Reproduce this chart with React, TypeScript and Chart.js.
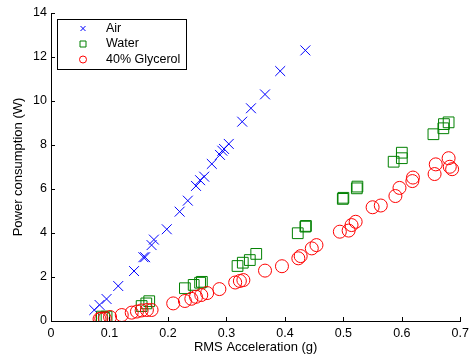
import { useEffect, useRef } from 'react';
import { Chart, registerables } from 'chart.js';

Chart.register(...registerables);

// RMS acceleration (g) and power consumption (W) per series
const airAccel = [0.074, 0.083, 0.095, 0.115, 0.142, 0.158, 0.161, 0.172, 0.176, 0.198, 0.220, 0.234, 0.248, 0.255, 0.262, 0.275, 0.289, 0.293, 0.296, 0.304, 0.327, 0.342, 0.366, 0.392, 0.435];
const airPower = [0.5, 0.73, 1.0, 1.59, 2.27, 2.9, 2.9, 3.45, 3.7, 4.17, 4.97, 5.47, 6.14, 6.4, 6.56, 7.14, 7.55, 7.74, 7.82, 8.05, 9.06, 9.67, 10.3, 11.36, 12.3];

const waterAccel = [0.087, 0.095, 0.091, 0.155, 0.163, 0.168, 0.229, 0.244, 0.255, 0.258, 0.319, 0.328, 0.340, 0.351, 0.422, 0.435, 0.436, 0.499, 0.500, 0.523, 0.524, 0.586, 0.600, 0.600, 0.654, 0.671, 0.672, 0.680];
const waterPower = [0.2, 0.2, 0.14, 0.68, 0.8, 0.9, 1.49, 1.64, 1.74, 1.78, 2.5, 2.65, 2.77, 3.05, 3.99, 4.29, 4.32, 5.55, 5.6, 6.03, 6.11, 7.24, 7.4, 7.65, 8.49, 8.76, 8.95, 9.03];

const glyAccel = [0.083, 0.086, 0.092, 0.101, 0.121, 0.138, 0.147, 0.155, 0.164, 0.172, 0.209, 0.229, 0.240, 0.248, 0.257, 0.267, 0.288, 0.315, 0.323, 0.329, 0.366, 0.395, 0.423, 0.427, 0.446, 0.454, 0.494, 0.509, 0.514, 0.521, 0.550, 0.564, 0.589, 0.596, 0.618, 0.619, 0.656, 0.658, 0.680, 0.682, 0.686];
const glyPower = [0.09, 0.11, 0.12, 0.18, 0.27, 0.38, 0.43, 0.48, 0.5, 0.5, 0.8, 0.91, 1.01, 1.1, 1.18, 1.27, 1.45, 1.75, 1.82, 1.86, 2.29, 2.49, 2.85, 2.95, 3.3, 3.45, 4.06, 4.11, 4.36, 4.51, 5.17, 5.25, 5.68, 6.05, 6.36, 6.52, 6.68, 7.12, 7.4, 7.01, 6.9];

const seriesNames = ['Air', 'Water', '40% Glycerol'];
const xTickLabels = ['0', '0.1', '0.2', '0.3', '0.4', '0.5', '0.6', '0.7'];
const yTickLabels = ['0', '2', '4', '6', '8', '10', '12', '14'];

const BLUE = 'rgb(0,0,255)';
const GREEN = 'rgb(0,128,0)';
const RED = 'rgb(255,0,0)';
const FONT = '"Liberation Sans", Arial, Helvetica, sans-serif';

const zip = (xs: number[], ys: number[]) => xs.map((x, i) => ({ x, y: ys[i] }));

const inwardTicks = {
  id: 'inwardTicks',
  afterDraw(chart: any) {
    const { ctx, chartArea, scales } = chart;
    ctx.save();
    ctx.strokeStyle = '#000';
    ctx.lineWidth = 1;
    ctx.beginPath();
    scales.x.ticks.forEach((t: any) => {
      const px = Math.round(scales.x.getPixelForValue(t.value)) + 0.5;
      ctx.moveTo(px, chartArea.bottom);
      ctx.lineTo(px, chartArea.bottom - 4);
    });
    scales.y.ticks.forEach((t: any) => {
      const py = Math.round(scales.y.getPixelForValue(t.value)) + 0.5;
      ctx.moveTo(chartArea.left, py);
      ctx.lineTo(chartArea.left + 4, py);
    });
    ctx.stroke();
    ctx.restore();
  },
};

const boxLegend = {
  id: 'boxLegend',
  afterDraw(chart: any) {
    const { ctx, chartArea } = chart;
    const x0 = Math.round(chartArea.left) + 6;
    const y0 = Math.round(chartArea.top) + 6;
    const w = 129;
    const h = 50;
    ctx.save();
    ctx.fillStyle = '#fff';
    ctx.fillRect(x0, y0, w, h);
    ctx.strokeStyle = '#000';
    ctx.lineWidth = 1;
    ctx.strokeRect(x0 + 0.5, y0 + 0.5, w, h);
    ctx.font = `12.5px ${FONT}`;
    ctx.textBaseline = 'middle';
    const colors = [BLUE, GREEN, RED];
    seriesNames.forEach((name, i) => {
      const cy = y0 + 9.5 + i * 15.5;
      const mx = x0 + 26;
      ctx.strokeStyle = colors[i];
      ctx.lineWidth = 1;
      ctx.beginPath();
      if (i === 0) {
        ctx.moveTo(mx - 2.5, cy - 2.5);
        ctx.lineTo(mx + 2.5, cy + 2.5);
        ctx.moveTo(mx + 2.5, cy - 2.5);
        ctx.lineTo(mx - 2.5, cy + 2.5);
      } else if (i === 1) {
        ctx.rect(mx - 3, cy - 3, 6, 6);
      } else {
        ctx.arc(mx, cy, 3.5, 0, Math.PI * 2);
      }
      ctx.stroke();
      ctx.fillStyle = '#000';
      ctx.fillText(name, x0 + 49, cy);
    });
    ctx.restore();
  },
};

export default function App() {
  const ref = useRef<HTMLCanvasElement | null>(null);
  useEffect(() => {
    document.body.style.margin = '0';
    if (!ref.current) return;
    const chart = new Chart(ref.current, {
      type: 'scatter',
      data: {
        datasets: [
          {
            label: seriesNames[0],
            data: zip(airAccel, airPower),
            pointStyle: 'crossRot',
            pointRadius: 7,
            pointHoverRadius: 7,
            borderColor: BLUE,
            backgroundColor: 'transparent',
            borderWidth: 1,
            order: 3,
          },
          {
            label: seriesNames[1],
            data: zip(waterAccel, waterPower),
            pointStyle: 'rect',
            pointRadius: 7.6,
            pointHoverRadius: 7.6,
            borderColor: GREEN,
            backgroundColor: 'transparent',
            borderWidth: 1,
            order: 2,
          },
          {
            label: seriesNames[2],
            data: zip(glyAccel, glyPower),
            pointStyle: 'circle',
            pointRadius: 6.5,
            pointHoverRadius: 6.5,
            borderColor: RED,
            backgroundColor: 'transparent',
            borderWidth: 1,
            order: 1,
          },
        ],
      },
      options: {
        animation: false,
        responsive: false,
        events: [],
        layout: { padding: { left: 0, right: 13, top: 13, bottom: 0 } },
        plugins: {
          legend: { display: false },
          tooltip: { enabled: false },
        },
        scales: {
          x: {
            type: 'linear',
            min: 0,
            max: 0.7,
            afterFit: (s: any) => {
              s.height = 38;
            },
            grid: { display: false, drawTicks: false },
            border: { display: true, color: '#000', width: 1 },
            ticks: {
              stepSize: 0.1,
              autoSkip: false,
              maxRotation: 0,
              padding: 5,
              color: '#000',
              font: { family: FONT, size: 12.5 },
              callback: (_v: any, i: number) => xTickLabels[i],
            },
            title: {
              display: true,
              text: 'RMS Acceleration (g)',
              color: '#000',
              font: { family: FONT, size: 13 },
              padding: { top: 0, bottom: 4 },
            },
          },
          y: {
            type: 'linear',
            min: 0,
            max: 14,
            afterFit: (s: any) => {
              s.width = 51;
            },
            grid: { display: false, drawTicks: false },
            border: { display: true, color: '#000', width: 1 },
            ticks: {
              stepSize: 2,
              autoSkip: false,
              padding: 4,
              color: '#000',
              font: { family: FONT, size: 12.5 },
              callback: (_v: any, i: number) => yTickLabels[i],
            },
            title: {
              display: true,
              text: 'Power consumption (W)',
              color: '#000',
              font: { family: FONT, size: 13 },
              padding: { top: 11, bottom: 0 },
            },
          },
        },
      },
      plugins: [inwardTicks, boxLegend],
    });
    return () => chart.destroy();
  }, []);
  return (
    <div style={{ width: 474, height: 359 }}>
      <canvas ref={ref} width={474} height={359} style={{ display: 'block' }} />
    </div>
  );
}
